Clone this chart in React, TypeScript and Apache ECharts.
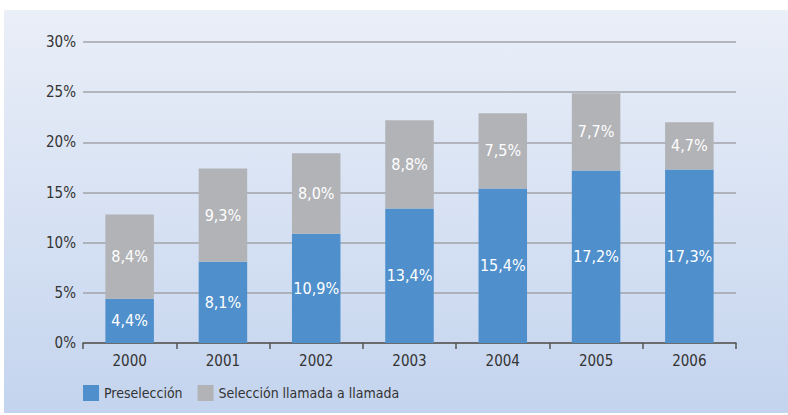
import React, { useEffect, useRef } from "react";
import * as echarts from "echarts";

const categories = ["2000", "2001", "2002", "2003", "2004", "2005", "2006"];
const preseleccion = [4.4, 8.1, 10.9, 13.4, 15.4, 17.2, 17.3];
const llamada = [8.4, 9.3, 8.0, 8.8, 7.5, 7.7, 4.7];
const yTicks = [0, 5, 10, 15, 20, 25, 30];

const FONT = "'Liberation Sans Narrow', 'DejaVu Sans Condensed', 'Roboto Condensed', sans-serif";

const fmt = (v: number) => v.toFixed(1).replace(".", ",") + "%";

export default function App() {
  const ref = useRef<HTMLDivElement>(null);
  useEffect(() => {
    document.body.style.margin = "0";
    const chart = echarts.init(ref.current!, null, { renderer: "svg" });
    chart.setOption({
      animation: false,
      textStyle: { fontFamily: FONT },
      graphic: [
        {
          type: "rect",
          z: -10,
          silent: true,
          shape: { x: 4, y: 10, width: 784, height: 403 },
          style: {
            fill: new echarts.graphic.LinearGradient(0, 0, 0, 1, [
              { offset: 0, color: "#eaeff8" },
              { offset: 1, color: "#c4d4ee" },
            ]),
          },
        },
      ],
      grid: { left: 83, right: 52, top: 42, bottom: 72 },
      legend: {
        left: 78,
        top: 380,
        itemWidth: 16,
        itemHeight: 16,
        itemGap: 15,
        icon: "rect",
        textStyle: { fontFamily: FONT, fontSize: 14, color: "#333" },
        data: ["Preselección", "Selección llamada a llamada"],
      },
      xAxis: {
        type: "category",
        data: categories,
        axisLine: { lineStyle: { color: "#555", width: 1.5 } },
        axisTick: { show: true, length: 6, lineStyle: { color: "#555", width: 1.5 } },
        axisLabel: { fontFamily: FONT, fontSize: 15, color: "#333", margin: 10 },
      },
      yAxis: {
        type: "value",
        min: 0,
        max: 30,
        interval: 5,
        axisLine: { show: false },
        axisTick: { show: false },
        axisLabel: {
          fontFamily: FONT,
          fontSize: 15,
          color: "#333",
          margin: 7,
          formatter: (v: number) => (yTicks.includes(v) ? v + "%" : ""),
        },
        splitLine: { lineStyle: { color: "#a2a3a8", width: 1.5 } },
      },
      series: [
        {
          name: "Preselección",
          type: "bar",
          stack: "total",
          barWidth: "52%",
          data: preseleccion,
          itemStyle: { color: "#4f8fcc" },
          label: {
            show: true,
            position: "inside",
            color: "#fff",
            fontFamily: FONT,
            fontSize: 16,
            formatter: (p: any) => fmt(p.value),
          },
        },
        {
          name: "Selección llamada a llamada",
          type: "bar",
          stack: "total",
          barWidth: "52%",
          data: llamada,
          itemStyle: { color: "#b2b3b7" },
          label: {
            show: true,
            position: "inside",
            color: "#fff",
            fontFamily: FONT,
            fontSize: 16,
            formatter: (p: any) => fmt(p.value),
          },
        },
      ],
    });
    return () => chart.dispose();
  }, []);
  return <div ref={ref} style={{ width: 788, height: 415, position: "absolute", left: 0, top: 0 }} />;
}
